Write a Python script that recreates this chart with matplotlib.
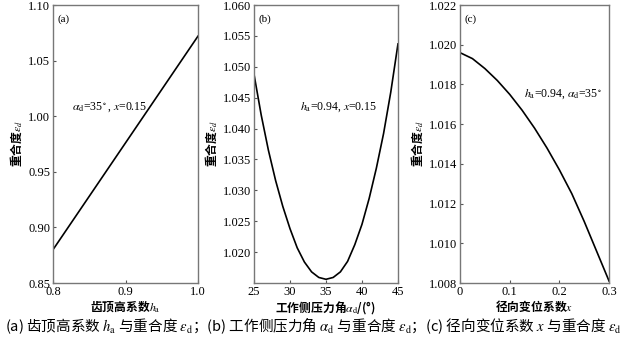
import matplotlib
matplotlib.use("Agg")
import matplotlib.pyplot as plt
import numpy as np

plt.rcParams['font.family'] = ['Liberation Serif', 'Noto Sans CJK SC', 'DejaVu Sans']
plt.rcParams['mathtext.fontset'] = 'stix'

# (a) addendum coefficient vs contact ratio
ha = [0.80, 0.85, 0.90, 0.95, 1.00]
eps_a = [0.880, 0.928, 0.976, 1.024, 1.072]

# (b) pressure angle vs contact ratio
alpha = [25, 26, 27, 28, 29, 30, 31, 32, 33, 34, 35,
         36, 37, 38, 39, 40, 41, 42, 43, 44, 45]
eps_b = [1.0488, 1.0422, 1.0365, 1.0316, 1.0274, 1.0238, 1.0207, 1.0184, 1.0168, 1.0159, 1.0156,
         1.0159, 1.0168, 1.0185, 1.0212, 1.0245, 1.0287, 1.0336, 1.0392, 1.0459, 1.0537]

# (c) radial modification coefficient vs contact ratio
xs = [0, 0.025, 0.05, 0.075, 0.1, 0.125, 0.15, 0.175, 0.2, 0.225, 0.25, 0.275, 0.3]
eps_c = [1.0196, 1.0193, 1.0188, 1.0182, 1.0175, 1.0167, 1.0158, 1.0148, 1.0137,
         1.0125, 1.0111, 1.0096, 1.0081]

fig = plt.figure(figsize=(6.23, 3.38), dpi=100)
ax1 = fig.add_axes([0.0851, 0.1627, 0.2327, 0.8225])
ax2 = fig.add_axes([0.4077, 0.1627, 0.2311, 0.8225])
ax3 = fig.add_axes([0.7384, 0.1627, 0.2392, 0.8225])

cjk = ['Noto Sans CJK SC', 'DejaVu Sans']

def style(ax):
    for s in ax.spines.values():
        s.set_color('#777777')
        s.set_linewidth(1.0)
    ax.tick_params(direction='in', length=2.5, width=0.8, color='#555555',
                   labelsize=9, pad=2)
    ax.set_ylabel(r'重合度$\varepsilon_d$', family=cjk, fontsize=8.5,
                  fontweight='bold', labelpad=3)

ax1.plot(ha, eps_a, color='black', lw=1.2)
ax1.set_xlim(0.8, 1.0)
ax1.set_ylim(0.85, 1.10)
ax1.set_xticks([0.8, 0.9, 1.0])
ax1.set_yticks([0.85, 0.90, 0.95, 1.00, 1.05, 1.10])
ax1.set_yticklabels(['0.85', '0.90', '0.95', '1.00', '1.05', '1.10'])
style(ax1)
ax1.set_xlabel(r'齿顶高系数$h_\mathrm{a}$', family=cjk, fontsize=8.5, fontweight='bold', labelpad=1)
ax1.text(0.03, 0.965, '(a)', transform=ax1.transAxes, fontsize=8, va='top')
ax1.text(0.826, 1.008, r'$\alpha_\mathrm{d}$=35$^\circ$, $x$=0.15', fontsize=8.5, va='center')

ax2.plot(alpha, eps_b, color='black', lw=1.2)
ax2.set_xlim(25, 45)
ax2.set_ylim(1.015, 1.060)
ax2.set_xticks([25, 30, 35, 40, 45])
ax2.set_yticks(np.arange(1.020, 1.0601, 0.005))
ax2.set_yticklabels(['%.3f' % v for v in np.arange(1.020, 1.0601, 0.005)])
style(ax2)
ax2.set_xlabel(r'工作侧压力角$\alpha_\mathrm{d}$/(°)', family=cjk, fontsize=8.5, fontweight='bold', labelpad=1)
ax2.text(0.03, 0.965, '(b)', transform=ax2.transAxes, fontsize=8, va='top')
ax2.text(31.4, 1.0435, r'$h_\mathrm{a}$=0.94, $x$=0.15', fontsize=8.5, va='center')

ax3.plot(xs, eps_c, color='black', lw=1.2)
ax3.set_xlim(0, 0.3)
ax3.set_ylim(1.008, 1.022)
ax3.set_xticks([0, 0.1, 0.2, 0.3])
ax3.set_xticklabels(['0', '0.1', '0.2', '0.3'])
ax3.set_yticks(np.arange(1.008, 1.0221, 0.002))
ax3.set_yticklabels(['%.3f' % v for v in np.arange(1.008, 1.0221, 0.002)])
style(ax3)
ax3.set_xlabel(r'径向变位系数$x$', family=cjk, fontsize=8.5, fontweight='bold', labelpad=1)
ax3.text(0.03, 0.965, '(c)', transform=ax3.transAxes, fontsize=8, va='top')
ax3.text(0.128, 1.0175, r'$h_\mathrm{a}$=0.94, $\alpha_\mathrm{d}$=35$^\circ$', fontsize=8.5, va='center')

caption = (r'(a) 齿顶高系数 $h_\mathrm{a}$ 与重合度 $\varepsilon_\mathrm{d}$；'
           r'(b) 工作侧压力角 $\alpha_\mathrm{d}$ 与重合度 $\varepsilon_\mathrm{d}$；'
           r'(c) 径向变位系数 $x$ 与重合度 $\varepsilon_\mathrm{d}$')
fig.text(0.008, 0.036, caption, family=cjk, fontsize=10.5, va='center', ha='left')

fig.savefig('out.png', dpi=100)
